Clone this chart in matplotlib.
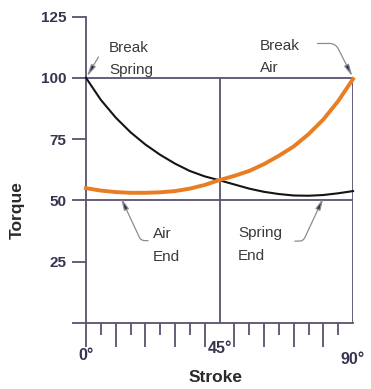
import matplotlib
matplotlib.use("Agg")
import matplotlib.pyplot as plt

plt.rcParams['font.family'] = ['Liberation Sans', 'DejaVu Sans']

# Data
stroke = [0, 5, 10, 15, 20, 25, 30, 35, 40, 45, 50, 55, 60, 65, 70, 75, 80, 85, 90]
spring_torque = [100, 91, 83.8, 77.8, 72.8, 68.6, 65.0, 62.0, 59.8, 58.2, 56.5, 54.8,
                 53.5, 52.6, 52.0, 51.9, 52.2, 52.9, 53.8]
air_torque = [55, 54, 53.4, 53.1, 53.1, 53.3, 53.8, 54.8, 56.3, 58.3, 60, 62,
              64.8, 68.2, 72, 77, 83, 90.5, 99.5]

y_ticks = [0, 25, 50, 75, 100, 125]
y_ticklabels = ['', '25', '50', '75', '100', '125']
x_major = [0, 10, 20, 30, 40, 50, 60, 70, 80]
x_minor = [5, 15, 25, 35, 55, 65, 75, 85]
x_labels = ['0°', '45°', '90°']
x_label_pos = [0, 45, 90]

LC = '#5d5070'
TXT = '#3a3a3a'
NUM = '#3a3350'
HEAD = '#2a2857'
ARROW = '#8c8c8c'

W, H = 371, 389
fig = plt.figure(figsize=(W / 100, H / 100), dpi=100)
ax = fig.add_axes([86 / W, (H - 323) / H, (353 - 86) / W, (323 - 16.5) / H])
ax.set_xlim(0, 90)
ax.set_ylim(0, 125)
ax.set_facecolor('none')

for s in ['top', 'right']:
    ax.spines[s].set_visible(False)
for s in ['left', 'bottom']:
    ax.spines[s].set_color(LC)
    ax.spines[s].set_linewidth(1.3)

ax.set_yticks(y_ticks)
ax.set_yticklabels(y_ticklabels)
ax.tick_params(axis='y', length=10, width=1.3, color=LC, pad=4,
               labelsize=11, labelcolor=NUM)
for t in ax.get_yticklabels():
    t.set_fontweight('bold')

ax.set_xticks(x_major)
ax.set_xticks(x_minor, minor=True)
ax.set_xticklabels([])
ax.tick_params(axis='x', which='major', length=17, width=1.3, color=LC)
ax.tick_params(axis='x', which='minor', length=8.5, width=1.3, color=LC)

# reference lines
ax.hlines([100, 50], 0, 90, colors=LC, lw=1.3, zorder=1)
ax.vlines([45, 90], 0, 100, colors=LC, lw=1.3, zorder=1)

ax.plot(stroke, spring_torque, color='#141414', lw=1.5, zorder=3, clip_on=False)
ax.plot(stroke, air_torque, color='#e87d22', lw=2.8, zorder=4, clip_on=False)

# x labels
x_label_offsets = [-10.3, -7.3, -11.7]
for lab, pos, off in zip(x_labels, x_label_pos, x_label_offsets):
    ax.text(pos, off, lab, ha='center', va='top', fontsize=11.5,
            fontweight='bold', color=NUM, clip_on=False)

fig.text(17 / W, 1 - 210 / H, 'Torque', rotation=90, ha='center', va='center',
         fontsize=12.5, fontweight='bold', color='#2a2a2a')
fig.text(216 / W, 1 - 378 / H, 'Stroke', ha='center', va='center',
         fontsize=12.5, fontweight='bold', color='#2a2a2a')

# annotations
ann_kw = dict(fontsize=11, color=TXT, ha='left', va='top', linespacing=1.75)
ax.text(7.75, 115.2, 'Break\nSpring', **ann_kw)
ax.text(58.6, 116.0, 'Break\nAir', **ann_kw)
ax.text(22.6, 39.0, 'Air\nEnd', **ann_kw)
ax.text(51.2, 39.4, 'Spring\nEnd', **ann_kw)

def arrow(xy, xytext, conn):
    ax.annotate('', xy=xy, xytext=xytext, annotation_clip=False,
                arrowprops=dict(arrowstyle='-|>,head_length=0.7,head_width=0.15',
                                connectionstyle=conn, ec=ARROW, fc=HEAD,
                                lw=0.9, shrinkA=0, shrinkB=0))

arrow((0.3, 100.5), (4.2, 108.5), 'arc3')
arrow((89.8, 100.5), (78.0, 114.0), 'angle,angleA=0,angleB=117,rad=6')
arrow((11.8, 51.0), (20.9, 33.6), 'angle,angleA=0,angleB=115,rad=4')
arrow((80.0, 51.0), (70.4, 33.4), 'angle,angleA=0,angleB=65,rad=4')

fig.savefig('out.png', dpi=100)
